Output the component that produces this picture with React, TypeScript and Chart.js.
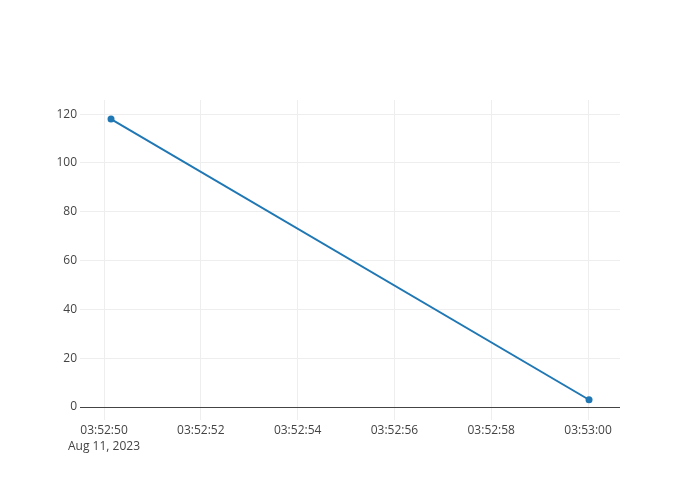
import React, { useEffect, useRef } from "react";
import { Chart, registerables } from "chart.js";

Chart.register(...registerables);

const times = ["03:52:50.145", "03:53:00.02"];
const values = [118, 3];
const dateLabel = "Aug 11, 2023";
const xRange = ["03:52:49.504", "03:53:00.66"];
const yRange = [-5.3, 125.8];
const yStep = 20;
const xStepSeconds = 2;

function toSec(t: string): number {
  const [h, m, s] = t.split(":");
  return Number(h) * 3600 + Number(m) * 60 + Number(s);
}
function fmt(sec: number): string {
  const r = Math.round(sec);
  const h = Math.floor(r / 3600);
  const m = Math.floor((r % 3600) / 60);
  const s = r % 60;
  const p = (n: number) => String(n).padStart(2, "0");
  return `${p(h)}:${p(m)}:${p(s)}`;
}

export default function App() {
  const ref = useRef<HTMLCanvasElement | null>(null);
  useEffect(() => {
    document.body.style.margin = "0";
    const ctx = ref.current!;
    const firstTick = Math.ceil(toSec(xRange[0]) / xStepSeconds) * xStepSeconds;
    const chart = new Chart(ctx, {
      type: "line",
      data: {
        datasets: [
          {
            data: times.map((t, i) => ({ x: toSec(t), y: values[i] })),
            borderColor: "#1f77b4",
            backgroundColor: "#1f77b4",
            borderWidth: 2,
            pointRadius: 3.5,
            pointHoverRadius: 3.5,
            pointBorderWidth: 0,
            tension: 0,
          },
        ],
      },
      options: {
        animation: false,
        responsive: false,
        layout: { padding: { left: 0, top: 100, right: 80, bottom: 0 } },
        plugins: { legend: { display: false }, tooltip: { enabled: false } },
        scales: {
          x: {
            type: "linear",
            min: toSec(xRange[0]),
            max: toSec(xRange[1]),
            afterFit: (s: any) => {
              s.height = 80;
            },
            border: { display: false },
            grid: { color: "#eeeeee", lineWidth: 1, drawTicks: false },
            ticks: {
              stepSize: xStepSeconds,
              includeBounds: false,
              maxRotation: 0,
              autoSkip: false,
              padding: 2,
              color: "#444444",
              font: { family: "'Open Sans'", size: 12, lineHeight: 1.35 },
              callback: (v: any) => {
                const n = Number(v);
                if (Math.abs(n - firstTick) < 1e-6) return [fmt(n), dateLabel];
                return fmt(n);
              },
            },
          },
          y: {
            type: "linear",
            min: yRange[0],
            max: yRange[1],
            afterFit: (s: any) => {
              s.width = 80;
            },
            afterBuildTicks: (s: any) => {
              const t = [];
              for (let v = 0; v <= yRange[1]; v += yStep) t.push({ value: v });
              s.ticks = t;
            },
            border: { display: false },
            grid: {
              color: (c: any) => (c.tick && c.tick.value === 0 ? "#444444" : "#eeeeee"),
              lineWidth: 1,
              drawTicks: false,
            },
            ticks: {
              padding: 3,
              color: "#444444",
              font: { family: "'Open Sans'", size: 12 },
            },
          },
        },
      },
    });
    return () => chart.destroy();
  }, []);
  return (
    <div style={{ width: 700, height: 500, background: "#fff" }}>
      <canvas ref={ref} width={700} height={500} />
    </div>
  );
}
